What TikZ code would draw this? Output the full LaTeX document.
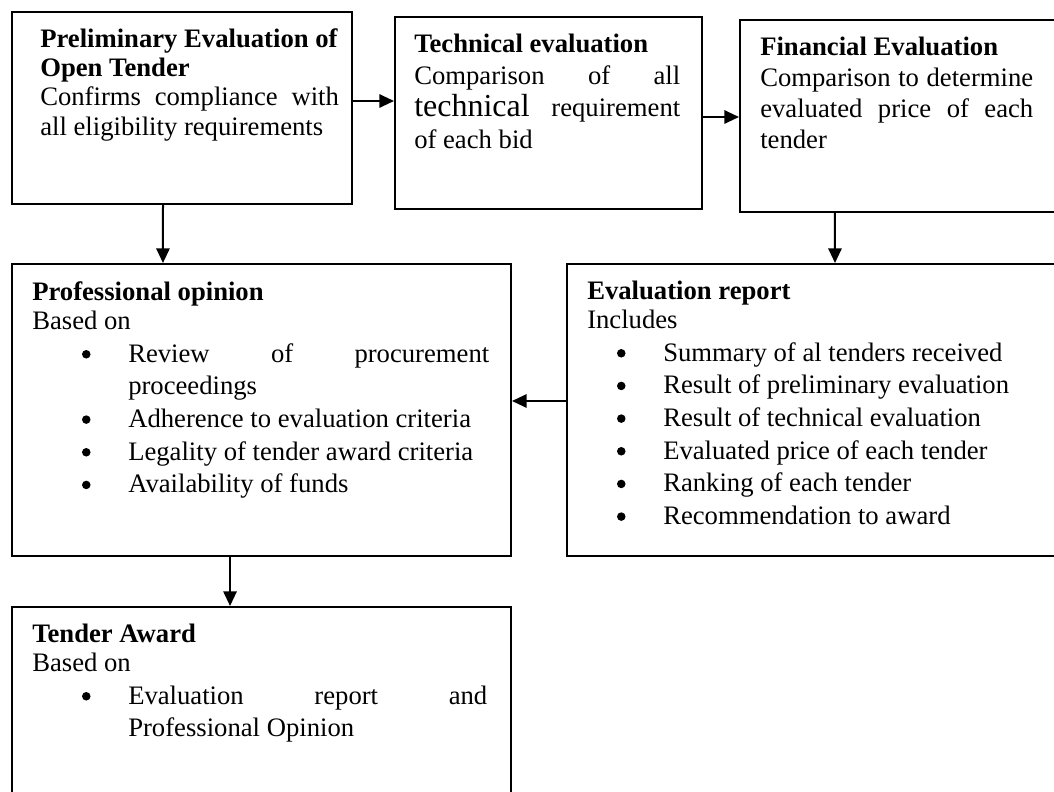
\documentclass[tikz,border=0pt]{standalone}
\usepackage{fontspec}
\setmainfont{Liberation Serif}
\usetikzlibrary{arrows.meta}

% round list marker, drawn as a filled dot sitting at mid x-height
\newcommand\bigdot{\tikz[baseline=0pt]\fill (0pt,6pt) circle[radius=3.2pt];}
% bullet paragraph: #1 = marker offset, #2 = text indent, #3 = item text
\newcommand\bulletline[3]{\par\hangindent=#2\hangafter=1\noindent
  \hbox to #2{\hspace*{#1}\bigdot\hfil}#3\par}

\begin{document}
\begin{tikzpicture}[x=0.75pt,y=-0.75pt,
  stage/.style={draw, line width=1.5pt, rectangle, inner sep=0pt, anchor=north west},
  txt/.style={anchor=north west, inner sep=0pt, align=justify,
    execute at begin node={\tolerance=10000\hbadness=10000\hyphenpenalty=10000}},
  arr/.style={line width=1.5pt, -{Triangle[length=11pt,width=10pt]}}]

\useasboundingbox (0,0) rectangle (1054,792);
\fill[white] (0,0) rectangle (1054,792);
\clip (0,0) rectangle (1054,792);

% stage boxes
\node[stage, minimum width=255pt,    minimum height=144pt]   (pre)  at (11,11)   {};
\node[stage, minimum width=230.25pt, minimum height=144pt]   (tech) at (394,16)  {};
\node[stage, minimum width=248.25pt, minimum height=144pt]   (fin)  at (739,19)  {};
\node[stage, minimum width=374.25pt, minimum height=219pt]   (opi)  at (11,263)  {};
\node[stage, minimum width=378pt,    minimum height=219pt]   (rep)  at (566,263) {};
\node[stage, minimum width=374.25pt, minimum height=145.5pt] (awd)  at (11,606)  {};

% box texts
\node[txt, text width=224pt, font=\fontsize{20}{22}\selectfont] (preT) at (40,27)
  {\rule{0pt}{15pt}\textbf{Preliminary Evaluation of\newline Open Tender}\par
   Confirms compliance with\linebreak all eligibility requirements};

\node[txt, text width=199.5pt, font=\fontsize{20}{24}\selectfont] (techT) at (414,32)
  {\rule{0pt}{15pt}\textbf{Technical evaluation}\par
   Comparison of all\linebreak {\fontsize{24}{24}\selectfont technical} requirement\linebreak of each bid};

\node[txt, text width=204.75pt, font=\fontsize{20}{23.3}\selectfont] (finT) at (760,35)
  {\rule{0pt}{15pt}\textbf{Financial Evaluation}\par
   Comparison to determine\linebreak evaluated price of each\linebreak tender};

\node[txt, text width=342.75pt, font=\fontsize{20}{22}\selectfont] (opiT) at (32,280)
  {\rule{0pt}{15pt}\textbf{Professional opinion}\par
   Based on\par
   {\baselineskip=24.5pt
    \bulletline{37.3pt}{72pt}{Review of procurement\linebreak proceedings}
    \bulletline{37.3pt}{72pt}{Adherence to evaluation criteria}
    \bulletline{37.3pt}{72pt}{Legality of tender award criteria}
    \bulletline{37.3pt}{72pt}{Availability of funds}}};

\node[txt, text width=330pt, font=\fontsize{20}{22}\selectfont] (repT) at (587,279)
  {\rule{0pt}{15pt}\textbf{Evaluation report}\par
   Includes\par
   {\baselineskip=24.5pt
    \bulletline{22.3pt}{57pt}{Summary of al tenders received}
    \bulletline{22.3pt}{57pt}{Result of preliminary evaluation}
    \bulletline{22.3pt}{57pt}{Result of technical evaluation}
    \bulletline{22.3pt}{57pt}{Evaluated price of each tender}
    \bulletline{22.3pt}{57pt}{Ranking of each tender}
    \bulletline{22.3pt}{57pt}{Recommendation to award}}};

\node[txt, text width=341.25pt, font=\fontsize{20}{22}\selectfont] (awdT) at (32,622)
  {\rule{0pt}{15pt}\textbf{Tender Award}\par
   Based on\par
   {\baselineskip=24.5pt
    \bulletline{37.3pt}{72pt}{Evaluation report and\linebreak Professional Opinion}}};

% connectors
\draw[arr] ([yshift=5.25pt]pre.east)   -- ([yshift=9pt]tech.west);
\draw[arr] ([yshift=-3pt]tech.east)    -- ([yshift=-0.75pt]fin.west);
\draw[arr] ([xshift=-52.9pt]fin.south) -- ([xshift=12pt]rep.north);
\draw[arr] ([xshift=-14.25pt]pre.south) -- ([xshift=-73.9pt]opi.north);
\draw[arr] ([yshift=6.75pt]rep.west)   -- ([yshift=6.75pt]opi.east);
\draw[arr] ([xshift=-23.6pt]opi.south) -- ([xshift=-23.6pt]awd.north);
\end{tikzpicture}
\end{document}
